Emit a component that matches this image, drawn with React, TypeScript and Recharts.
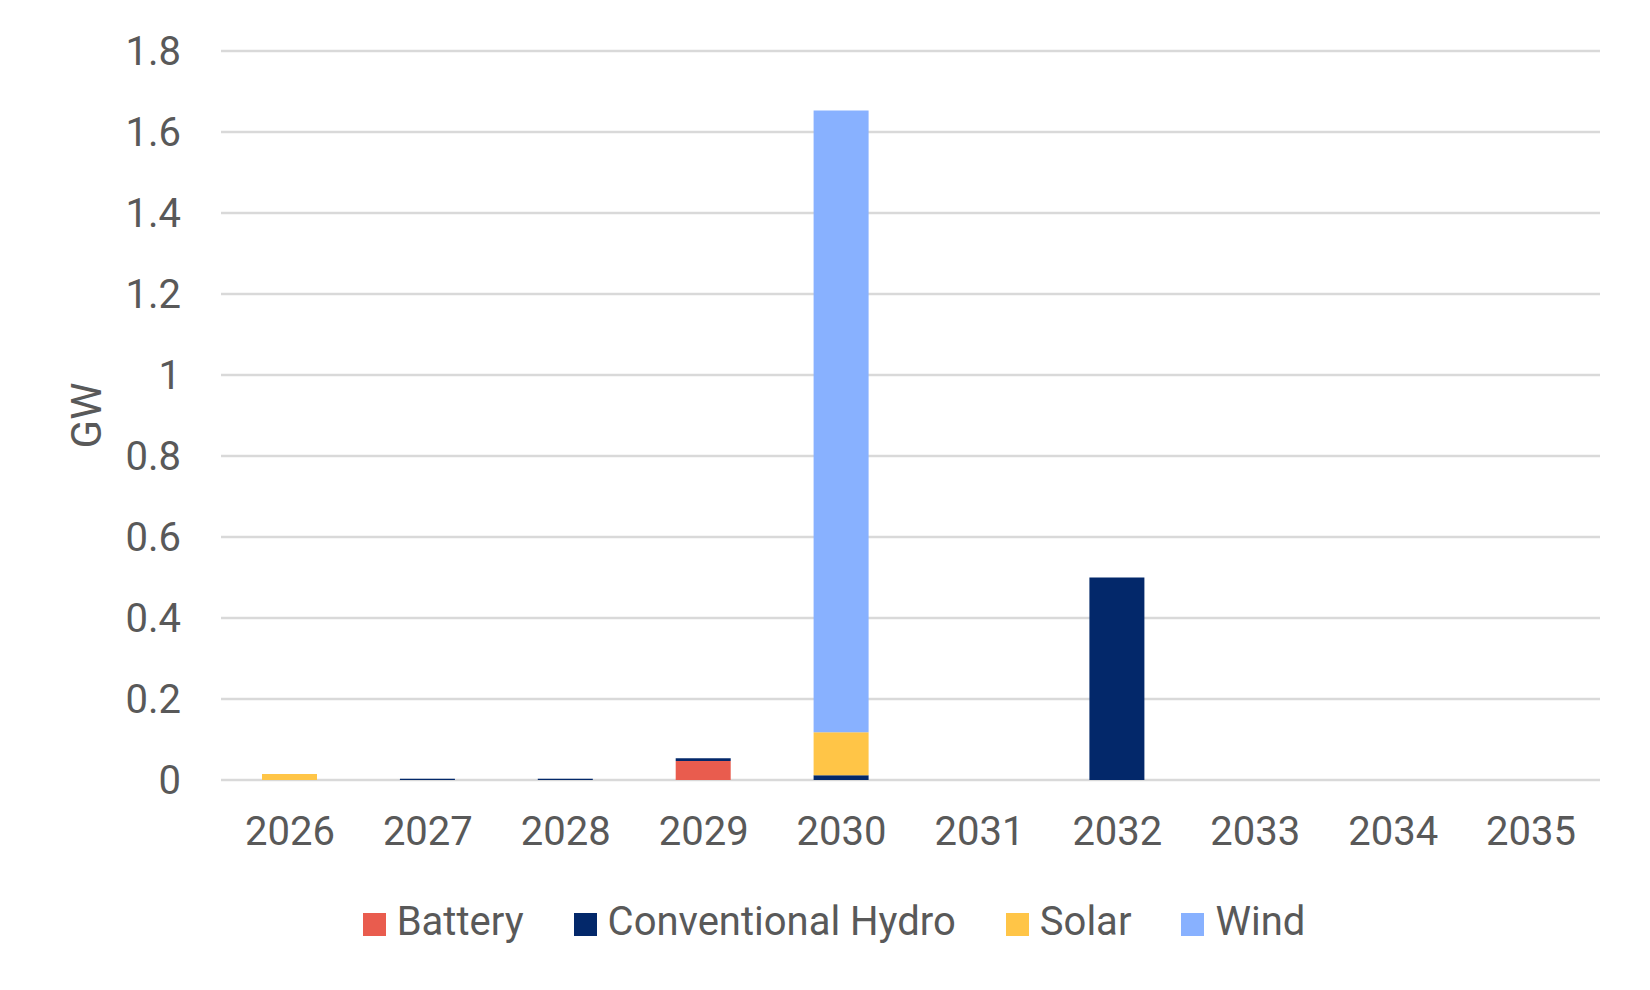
import { Bar, BarChart, CartesianGrid, XAxis, YAxis } from "recharts";

const years = ["2026", "2027", "2028", "2029", "2030", "2031", "2032", "2033", "2034", "2035"];
const battery = [0, 0, 0, 0.047, 0, 0, 0, 0, 0, 0];
const hydro = [0, 0.003, 0.003, 0.007, 0.012, 0, 0.5, 0, 0, 0];
const solar = [0.015, 0, 0, 0, 0.106, 0, 0, 0, 0, 0];
const wind = [0, 0, 0, 0, 1.535, 0, 0, 0, 0, 0];
const yTicks = [0, 0.2, 0.4, 0.6, 0.8, 1, 1.2, 1.4, 1.6, 1.8];

const series = [
  { key: "battery", name: "Battery", color: "#E95C4E" },
  { key: "hydro", name: "Conventional Hydro", color: "#03286A" },
  { key: "solar", name: "Solar", color: "#FFC547" },
  { key: "wind", name: "Wind", color: "#88B1FF" },
];

const data = years.map((year, i) => ({
  year,
  battery: battery[i],
  hydro: hydro[i],
  solar: solar[i],
  wind: wind[i],
}));

const FONT = "Roboto, 'Noto Sans', sans-serif";
const TEXT = "#595959";
const SIZE = 40;

const GwLabel = ({ viewBox }: any) => {
  const x = (viewBox?.x ?? 0) + 86;
  const y = (viewBox?.y ?? 0) + (viewBox?.height ?? 0) / 2;
  return (
    <text
      x={x}
      y={y}
      transform={`rotate(-90 ${x} ${y})`}
      textAnchor="middle"
      dominantBaseline="central"
      fill={TEXT}
      fontSize={42}
      fontFamily={FONT}
    >
      GW
    </text>
  );
};

export default function App() {
  return (
    <div style={{ position: "absolute", left: 0, top: 0, width: 1650, height: 990, background: "#fff", fontFamily: FONT }}>
      <BarChart
        width={1650}
        height={990}
        data={data}
        margin={{ top: 51, right: 50, left: 0, bottom: 0 }}
        barSize={55}
      >
        <CartesianGrid vertical={false} stroke="#D9D9D9" strokeWidth={2.5} />
        <XAxis
          dataKey="year"
          height={210}
          axisLine={false}
          tickLine={false}
          tickSize={0}
          tickMargin={37}
          tick={{ fill: TEXT, fontSize: SIZE, fontFamily: FONT }}
        />
        <YAxis
          width={221}
          domain={[0, 1.8]}
          ticks={yTicks}
          interval={0}
          axisLine={false}
          tickLine={false}
          tickSize={0}
          tickMargin={40}
          tick={{ fill: TEXT, fontSize: SIZE, fontFamily: FONT }}
          label={<GwLabel />}
        />
        {series.map((s) => (
          <Bar key={s.key} dataKey={s.key} name={s.name} stackId="a" fill={s.color} isAnimationActive={false} />
        ))}
      </BarChart>
      <div
        style={{
          position: "absolute",
          left: 0,
          top: 899,
          width: 1650,
          height: 46,
          boxSizing: "border-box",
          paddingLeft: 18,
          display: "flex",
          justifyContent: "center",
          alignItems: "center",
          gap: 50,
        }}
      >
        {series.map((s) => (
          <div key={s.key} style={{ display: "flex", alignItems: "center", gap: 11 }}>
            <span style={{ display: "inline-block", width: 23, height: 23, background: s.color, marginTop: 4 }} />
            <span style={{ fontSize: SIZE, lineHeight: "46px", color: TEXT }}>{s.name}</span>
          </div>
        ))}
      </div>
    </div>
  );
}
